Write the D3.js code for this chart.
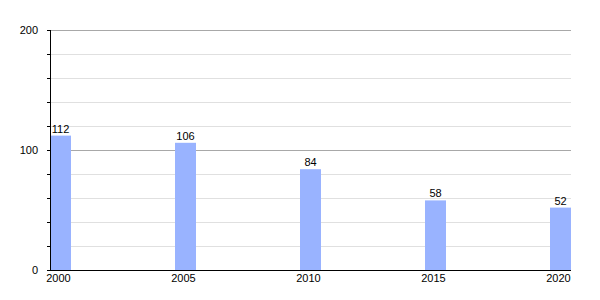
<!DOCTYPE html>
<html>
<head>
<meta charset="utf-8">
<script src="https://d3js.org/d3.v7.min.js"></script>
<style>
  body { margin: 0; background: #fff; }
  text { font-family: "Liberation Sans", Arial, sans-serif; font-size: 11px; fill: #000; }
</style>
</head>
<body>
<div id="chart"></div>
<script>
var years = [2000, 2005, 2010, 2015, 2020];
var values = [112, 106, 84, 58, 52];
var majorTicks = [0, 100, 200];
var minorTicks = [20, 40, 60, 80, 120, 140, 160, 180];

var width = 600, height = 300;
var plotLeft = 50, plotTop = 30, plotBottom = 270;
var barW = 21;

var svg = d3.select("#chart").append("svg")
  .attr("width", width)
  .attr("height", height);

// one year = 25px, 2000 starts at the axis
var x = d3.scaleLinear().domain([2000, 2020]).range([plotLeft, plotLeft + 500]);
var y = d3.scaleLinear().domain([0, 200]).range([plotBottom, plotTop]);
var plotRight = x(2020) + barW;

// grid
svg.append("g").selectAll("line")
  .data(minorTicks).enter().append("line")
    .attr("x1", plotLeft).attr("x2", plotRight)
    .attr("y1", function(d) { return y(d) + 0.5; })
    .attr("y2", function(d) { return y(d) + 0.5; })
    .attr("stroke", "#e0e0e0");

svg.append("g").selectAll("line")
  .data([100, 200]).enter().append("line")
    .attr("x1", plotLeft).attr("x2", plotRight)
    .attr("y1", function(d) { return y(d) + 0.5; })
    .attr("y2", function(d) { return y(d) + 0.5; })
    .attr("stroke", "#a8a8a8");

// bars
svg.append("g").selectAll("rect")
  .data(values).enter().append("rect")
    .attr("x", function(d, i) { return x(years[i]); })
    .attr("y", function(d) { return y(d); })
    .attr("width", barW)
    .attr("height", function(d) { return y(0) - y(d); })
    .attr("fill", "#99b3ff");

// value labels
svg.append("g").selectAll("text")
  .data(values).enter().append("text")
    .attr("x", function(d, i) { return x(years[i]) + barW / 2; })
    .attr("y", function(d) { return y(d) - 3; })
    .attr("text-anchor", "middle")
    .text(function(d) { return d; });

// y axis
svg.append("line")
  .attr("x1", plotLeft + 0.5).attr("x2", plotLeft + 0.5)
  .attr("y1", plotTop).attr("y2", plotBottom)
  .attr("stroke", "#000");

svg.append("g").selectAll("line")
  .data(minorTicks.concat(majorTicks)).enter().append("line")
    .attr("x1", plotLeft - 3).attr("x2", plotLeft)
    .attr("y1", function(d) { return y(d) + 0.5; })
    .attr("y2", function(d) { return y(d) + 0.5; })
    .attr("stroke", "#000");

svg.append("g").selectAll("text")
  .data(majorTicks).enter().append("text")
    .attr("x", 38)
    .attr("y", function(d) { return y(d) + 4; })
    .attr("text-anchor", "end")
    .text(function(d) { return d; });

// x axis
svg.append("line")
  .attr("x1", plotLeft).attr("x2", plotRight)
  .attr("y1", plotBottom + 0.5).attr("y2", plotBottom + 0.5)
  .attr("stroke", "#000");

svg.append("g").selectAll("text")
  .data(years).enter().append("text")
    .attr("x", function(d) { return x(d) + barW / 2 - 2; })
    .attr("y", plotBottom + 12)
    .attr("text-anchor", "middle")
    .text(function(d) { return d; });
</script>
</body>
</html>
